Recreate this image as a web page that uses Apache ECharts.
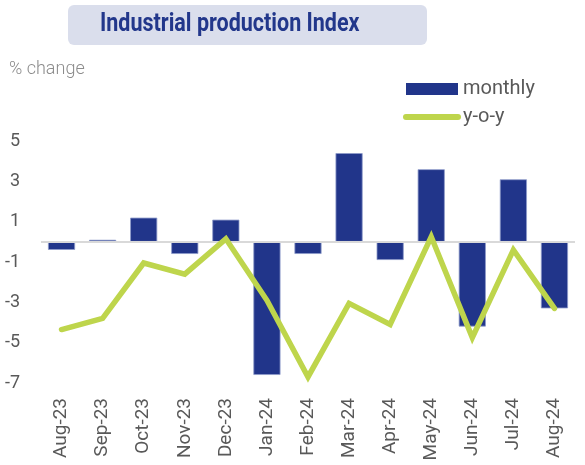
<!DOCTYPE html>
<html>
<head>
<meta charset="utf-8">
<script src="https://cdn.jsdelivr.net/npm/echarts@6/dist/echarts.min.js"></script>
<style>
  html, body { margin: 0; padding: 0; background: #ffffff; }
  #chart { width: 585px; height: 465px; }
</style>
</head>
<body>
<div id="chart"></div>
<script>
const months = ['Aug-23', 'Sep-23', 'Oct-23', 'Nov-23', 'Dec-23', 'Jan-24', 'Feb-24',
  'Mar-24', 'Apr-24', 'May-24', 'Jun-24', 'Jul-24', 'Aug-24']
const monthly = [-0.4, 0.1, 1.2, -0.6, 1.1, -6.6, -0.6, 4.4, -0.9, 3.6, -4.2, 3.1, -3.3]
const yoy = [-4.35, -3.8, -1.05, -1.6, 0.15, -2.9, -6.7, -3.05, -4.1, 0.25, -4.75, -0.4, -3.3]

const chart = echarts.init(document.getElementById('chart'))

const option = {
  backgroundColor: '#ffffff',
  animation: false,
  graphic: [
    {
      type: 'rect',
      left: 68,
      top: 5,
      shape: { width: 359, height: 40, r: 6 },
      style: { fill: '#dadeec' }
    },
    {
      type: 'text',
      x: 100,
      y: 25,
      scaleX: 0.86,
      style: {
        text: 'Industrial production Index',
        font: 'bold 25px Roboto',
        fill: '#22378b',
        verticalAlign: 'middle'
      }
    },
    {
      type: 'text',
      x: 9,
      y: 69,
      style: {
        text: '% change',
        font: '300 18px Roboto',
        fill: '#8c8c8c',
        verticalAlign: 'middle'
      }
    }
  ],
  legend: {
    data: [
      {
        name: 'monthly',
        icon: 'rect',
        itemStyle: { color: '#21358a', borderWidth: 0 }
      },
      {
        name: 'y-o-y',
        itemStyle: { opacity: 0 },
        lineStyle: { width: 6, cap: 'round', color: '#bed54c' }
      }
    ],
    orient: 'vertical',
    left: 403,
    top: 79,
    padding: 0,
    itemWidth: 52,
    itemHeight: 12,
    itemGap: 8,
    textStyle: { fontFamily: 'Roboto', fontSize: 20, color: '#595959' }
  },
  grid: {
    left: 41,
    right: 10,
    top: 141,
    bottom: 82,
    containLabel: false
  },
  xAxis: {
    type: 'category',
    data: months,
    axisLine: { show: false },
    axisTick: { show: false },
    axisLabel: {
      rotate: 90,
      interval: 0,
      margin: 15,
      fontFamily: 'Roboto',
      fontSize: 19,
      color: '#595959'
    },
    splitLine: { show: false }
  },
  yAxis: {
    type: 'value',
    min: -7,
    max: 5,
    interval: 2,
    axisLine: { show: false },
    axisTick: { show: false },
    splitLine: { show: false },
    axisLabel: {
      margin: 21,
      fontFamily: 'Roboto',
      fontSize: 18,
      color: '#595959'
    }
  },
  series: [
    {
      name: 'monthly',
      type: 'bar',
      data: monthly,
      barCategoryGap: '34%',
      itemStyle: {
        color: '#21358a',
        borderColor: '#8e9bc9',
        borderWidth: 0.8
      },
      markLine: {
        silent: true,
        symbol: 'none',
        label: { show: false },
        lineStyle: { color: '#d9d9d9', width: 2, type: 'solid' },
        data: [{ yAxis: 0 }]
      }
    },
    {
      name: 'y-o-y',
      type: 'line',
      data: yoy,
      symbol: 'none',
      z: 5,
      lineStyle: { color: '#bed54c', width: 5.5, cap: 'round', join: 'miter' },
      itemStyle: { color: '#bed54c' }
    }
  ]
}

chart.setOption(option)
</script>
</body>
</html>
